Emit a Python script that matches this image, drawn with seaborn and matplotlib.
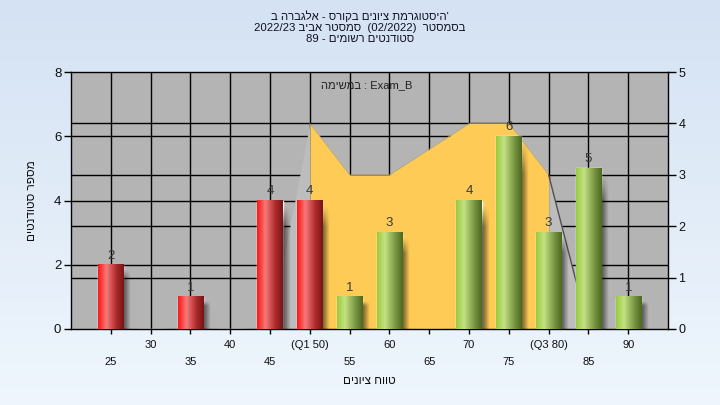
import numpy as np
import pandas as pd
import seaborn as sns
import matplotlib.pyplot as plt
from matplotlib import transforms
from matplotlib.colors import LinearSegmentedColormap

# נתונים מהגרף
grades = [25, 30, 35, 40, 45, 50, 55, 60, 65, 70, 75, 80, 85, 90]
counts = [2, 0, 1, 0, 4, 4, 1, 3, 0, 4, 6, 3, 5, 1]
tick_labels = ['25', '30', '35', '40', '45', '(Q1 50)', '55', '60', '65', '70',
               '75', '(Q3 80)', '85', '90']
pass_grade = 55

# שטח הרבעונים (ציר ימני)
area_grades = [45, 50, 55, 60, 70, 75, 80, 85]
area_values = [0, 4, 3, 3, 4, 4, 3, 0]
q1, q3 = 50, 80

# טקסטים (בסדר ויזואלי, כי matplotlib לא עושה bidi)
title_lines = [
    "ב הרבגלא - סרוקב םינויצ תמרגוטסיה'",
    "2022/23 ביבא רטסמס  (02/2022)  רטסמסב",
    "89 - םימושר םיטנדוטס",
]
legend_text = 'המישמב : Exam_B'
x_label = 'םינויצ חווט'
y_label = 'םיטנדוטס רפסמ'

df = pd.DataFrame({'grade': grades, 'count': counts})
df['group'] = np.where(df['grade'] < pass_grade, 'low', 'high')

sns.set_style('ticks')
plt.rcParams['font.family'] = ['Liberation Sans', 'DejaVu Sans']

fig = plt.figure(figsize=(7.2, 4.05), dpi=100)

# רקע מדורג
bg = fig.add_axes([0, 0, 1, 1])
bg.set_zorder(-1)
bg.imshow(np.linspace(0, 1, 256)[:, None], aspect='auto', extent=(0, 1, 0, 1),
          cmap=LinearSegmentedColormap.from_list('bg', ['#d4e2f3', '#eff6fd']))
bg.axis('off')

ax = fig.add_axes([0.0986, 0.1877, 0.8292, 0.6343])
ax2 = ax.twinx()
ax.set_zorder(2)
ax2.set_zorder(1)
ax.patch.set_visible(False)
ax2.patch.set_visible(True)
ax2.patch.set_facecolor('#b4b4b4')

sns.barplot(data=df, x='grade', y='count', hue='group', order=grades,
            palette={'low': '#e02020', 'high': '#90c040'}, dodge=False,
            width=0.63, legend=False, ax=ax, zorder=2)

pos = np.arange(len(grades))
ax.set_xlim(-1, len(grades))
ax.set_ylim(0, 8)
ax2.set_ylim(0, 5)

# קווי רשת (על הציר התחתון כדי שהשטח יכסה אותם)
for p in pos:
    ax2.axvline(p, color='black', lw=1, zorder=0.5)
for v in [1, 2, 3, 4]:
    ax2.axhline(v, color='black', lw=1, zorder=0.5)
blend = transforms.blended_transform_factory(ax2.transAxes, ax.transData)
for v in [2, 4, 6]:
    ax2.plot([0, 1], [v, v], transform=blend, color='black', lw=1, zorder=0.5)

# שטח
apos = np.array([grades.index(g) for g in area_grades])
avals = np.array(area_values)
ag = np.array(area_grades)
mid = (ag >= q1) & (ag <= q3)
ax2.fill_between(apos, 0, avals, where=mid, color='#fecb56', lw=0, zorder=1)
ax2.fill_between(apos, 0, avals, where=ag <= q1, color='#bdbdbd', lw=0, zorder=1)
ax2.fill_between(apos, 0, avals, where=ag >= q3, color='#bdbdbd', lw=0, zorder=1)
ax2.plot(apos[mid], avals[mid], color='#c0a868', lw=0.5, zorder=1.2)
ax2.plot(apos[ag >= q3], avals[ag >= q3], color='#505050', lw=1, zorder=1.2)

# עמודות עם מילוי מדורג וצל
red_cm = LinearSegmentedColormap.from_list('r', [(0, '#ff1818'), (0.12, '#fa3838'),
                                                 (0.32, '#f47a7a'), (0.7, '#b02c2c'),
                                                 (1, '#761414')])
green_cm = LinearSegmentedColormap.from_list('g', [(0, '#9acb3e'), (0.3, '#c6e283'),
                                                   (0.7, '#7a9844'), (1, '#4c6820')])
hgrad = np.linspace(0, 1, 100)[None, :]
shadow = np.zeros((60, 20, 4))
vfade = np.clip(np.linspace(0, 6, 60), 0, 1)
hfade = np.linspace(0.6, 0, 20)
shadow[..., 3] = np.outer(vfade, hfade)

for bar in ax.patches:
    h = bar.get_height()
    if h <= 0:
        continue
    x0 = bar.get_x()
    x1 = x0 + bar.get_width()
    fc = bar.get_facecolor()
    cm = red_cm if fc[0] > fc[1] else green_cm
    ax.imshow(hgrad, cmap=cm, aspect='auto', extent=(x0, x1, 0, h), zorder=3)
    ax.imshow(shadow, aspect='auto', extent=(x1, x1 + 0.2, 0, h - 0.15), zorder=2.5)
    ax.text((x0 + x1) / 2, h + 0.1, f'{int(h)}', ha='center', va='bottom',
            fontsize=9.5, color='#3a3a3a', zorder=4)

ax.set_xlim(-1, len(grades))
ax.set_ylim(0, 8)

# תוויות ציר x בשתי שורות
ax.set_xticks(pos[1::2], tick_labels[1::2])
ax.set_xticks(pos[0::2], tick_labels[0::2], minor=True)
ax.tick_params(axis='x', which='both', length=3.6, width=1, color='black',
               labelsize=8, labelcolor='#101010')
ax.tick_params(axis='x', which='major', pad=4)
ax.tick_params(axis='x', which='minor', pad=16.5)

ax.set_yticks([0, 2, 4, 6, 8])
ax.tick_params(axis='y', length=5, width=1, color='black', pad=2,
               labelsize=9.5, labelcolor='#101010')
ax2.set_yticks([0, 1, 2, 3, 4, 5])
ax2.tick_params(axis='y', length=6, width=1, color='black', pad=1.5,
                labelsize=9, labelcolor='#101010')

for s in ['left', 'bottom', 'top']:
    ax.spines[s].set_color('black')
    ax.spines[s].set_linewidth(1)
ax.spines['right'].set_visible(False)
for s in ['left', 'bottom', 'top']:
    ax2.spines[s].set_visible(False)
ax2.spines['right'].set_color('black')
ax2.spines['right'].set_linewidth(1)

ax.set_xlabel(x_label, fontsize=8.5, color='#101010')
ax.xaxis.set_label_coords(0.5, -0.178)
ax.set_ylabel(y_label, fontsize=8.5, color='#101010')
ax.yaxis.set_label_coords(-0.055, 0.5)

ax.text(0.496, 0.949, legend_text, transform=ax.transAxes, ha='center',
        va='center', fontsize=8, color='#202020', zorder=5)

fig.text(0.5, 1 - 10 / 405, '\n'.join(title_lines), ha='center', va='top',
         fontsize=8.2, linespacing=1.12, color='#101020')

fig.savefig('out.png', dpi=100)
